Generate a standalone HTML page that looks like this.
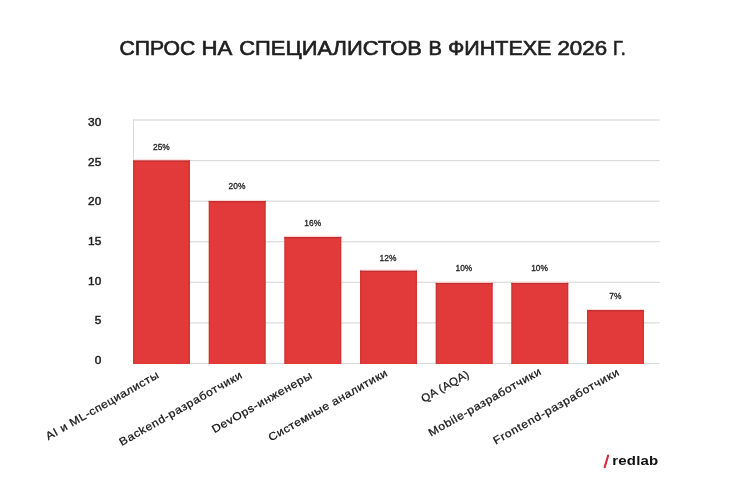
<!DOCTYPE html>
<html><head><meta charset="utf-8">
<style>
html,body{margin:0;padding:0;background:#fff;}
body{width:750px;height:500px;overflow:hidden;position:relative;font-family:"Liberation Sans",sans-serif;}
svg{position:absolute;left:0;top:0;will-change:transform;}
</style></head>
<body>
<svg width="750" height="500" viewBox="0 0 750 500" font-family="Liberation Sans, sans-serif">
  <rect x="0" y="0" width="750" height="500" fill="#fff"/>
  <!-- title -->
  <g font-size="20.3" fill="#1f1f1f" stroke="#1f1f1f" stroke-width="0.65">
    <text transform="translate(119.4,54.5) scale(1.0446,1)">СПРОС</text>
    <text transform="translate(201.5,54.5) scale(1.0936,1)">НА</text>
    <text transform="translate(239.25,54.5) scale(1.0803,1)">СПЕЦИАЛИСТОВ</text>
    <text transform="translate(428.45,54.5) scale(0.9958,1)">В</text>
    <text transform="translate(448.0,54.5) scale(1.0592,1)">ФИНТЕХЕ</text>
    <text transform="translate(557.4,54.5) scale(1.1011,1)">2026</text>
    <text transform="translate(613.05,54.5) scale(0.8935,1)">Г.</text>
  </g>
  <!-- gridlines -->
  <g fill="#dadada">
    <rect x="133" y="119.40" width="526.6" height="1.2"/>
    <rect x="133" y="159.98" width="526.6" height="1.2"/>
    <rect x="133" y="200.56" width="526.6" height="1.2"/>
    <rect x="133" y="241.13" width="526.6" height="1.2"/>
    <rect x="133" y="281.71" width="526.6" height="1.2"/>
    <rect x="133" y="322.29" width="526.6" height="1.2"/>
    <rect x="133" y="362.87" width="526.6" height="1.2"/>
    <rect x="133" y="119.4" width="1" height="244.6"/>
  </g>
  <!-- y labels -->
  <g font-size="10.6" fill="#1f1f1f" stroke="#1f1f1f" stroke-width="0.45" text-anchor="end">
    <text transform="translate(101.3,125.8) scale(1.12,1)">30</text>
    <text transform="translate(101.3,165.8) scale(1.12,1)">25</text>
    <text transform="translate(101.3,205.4) scale(1.12,1)">20</text>
    <text transform="translate(101.3,244.8) scale(1.12,1)">15</text>
    <text transform="translate(101.3,284.8) scale(1.12,1)">10</text>
    <text transform="translate(101.3,324.3) scale(1.12,1)">5</text>
    <text transform="translate(101.3,364.0) scale(1.12,1)">0</text>
  </g>
  <!-- bars -->
  <g fill="#e23a3a">
    <rect x="133.07" y="160.3" width="56.9" height="203.70"/>
    <rect x="208.73" y="200.9" width="56.9" height="163.10"/>
    <rect x="284.39" y="236.8" width="56.9" height="127.20"/>
    <rect x="360.05" y="270.5" width="56.9" height="93.50"/>
    <rect x="435.71" y="282.7" width="56.9" height="81.30"/>
    <rect x="511.37" y="282.7" width="56.9" height="81.30"/>
    <rect x="587.03" y="310.0" width="56.9" height="54.00"/>
  </g>
  <g>
    <rect x="133.07" y="159.30" width="56.9" height="1" fill="#ffd6d4"/>
    <rect x="133.27" y="160.30" width="1" height="203.70" fill="#cc3334"/>
    <rect x="188.77" y="160.30" width="1" height="203.70" fill="#cc3334"/>
    <rect x="133.07" y="160.60" width="56.9" height="1.2" fill="#bf3132"/>
    <rect x="208.73" y="199.90" width="56.9" height="1" fill="#ffd6d4"/>
    <rect x="208.93" y="200.90" width="1" height="163.10" fill="#cc3334"/>
    <rect x="264.43" y="200.90" width="1" height="163.10" fill="#cc3334"/>
    <rect x="208.73" y="201.20" width="56.9" height="1.2" fill="#bf3132"/>
    <rect x="284.39" y="235.80" width="56.9" height="1" fill="#ffd6d4"/>
    <rect x="284.59" y="236.80" width="1" height="127.20" fill="#cc3334"/>
    <rect x="340.09" y="236.80" width="1" height="127.20" fill="#cc3334"/>
    <rect x="284.39" y="237.10" width="56.9" height="1.2" fill="#bf3132"/>
    <rect x="360.05" y="269.50" width="56.9" height="1" fill="#ffd6d4"/>
    <rect x="360.25" y="270.50" width="1" height="93.50" fill="#cc3334"/>
    <rect x="415.75" y="270.50" width="1" height="93.50" fill="#cc3334"/>
    <rect x="360.05" y="270.80" width="56.9" height="1.2" fill="#bf3132"/>
    <rect x="435.71" y="281.70" width="56.9" height="1" fill="#ffd6d4"/>
    <rect x="435.91" y="282.70" width="1" height="81.30" fill="#cc3334"/>
    <rect x="491.41" y="282.70" width="1" height="81.30" fill="#cc3334"/>
    <rect x="435.71" y="283.00" width="56.9" height="1.2" fill="#bf3132"/>
    <rect x="511.37" y="281.70" width="56.9" height="1" fill="#ffd6d4"/>
    <rect x="511.57" y="282.70" width="1" height="81.30" fill="#cc3334"/>
    <rect x="567.07" y="282.70" width="1" height="81.30" fill="#cc3334"/>
    <rect x="511.37" y="283.00" width="56.9" height="1.2" fill="#bf3132"/>
    <rect x="587.03" y="309.00" width="56.9" height="1" fill="#ffd6d4"/>
    <rect x="587.23" y="310.00" width="1" height="54.00" fill="#cc3334"/>
    <rect x="642.73" y="310.00" width="1" height="54.00" fill="#cc3334"/>
    <rect x="587.03" y="310.30" width="56.9" height="1.2" fill="#bf3132"/>
  </g>
  <!-- value labels -->
  <g font-size="8.4" fill="#1f1f1f" stroke="#1f1f1f" stroke-width="0.3" text-anchor="middle">
    <text x="161.4" y="149.8">25%</text>
    <text x="237.0" y="188.6">20%</text>
    <text x="312.7" y="225.8">16%</text>
    <text x="388.0" y="260.8">12%</text>
    <text x="463.9" y="270.8">10%</text>
    <text x="539.6" y="270.8">10%</text>
    <text x="615.3" y="299.0">7%</text>
  </g>
  <!-- x labels -->
  <g font-size="11" fill="#151515" stroke="#151515" stroke-width="0.25" text-anchor="middle">
    <text transform="translate(103.90,408.75) rotate(-29.5) scale(1.1,1)" textLength="116.1" lengthAdjust="spacing">AI и ML-специалисты</text>
    <text transform="translate(182.40,411.75) rotate(-29.5) scale(1.1,1)" textLength="126.5" lengthAdjust="spacing">Backend-разработчики</text>
    <text transform="translate(263.60,405.50) rotate(-29.5) scale(1.1,1)" textLength="102.7" lengthAdjust="spacing">DevOps-инженеры</text>
    <text transform="translate(329.55,408.40) rotate(-29.5) scale(1.1,1)" textLength="122.2" lengthAdjust="spacing">Системные аналитики</text>
    <text transform="translate(446.75,389.60) rotate(-29.5) scale(1.05,1)" textLength="50.5" lengthAdjust="spacing">QA (AQA)</text>
    <text transform="translate(486.40,405.30) rotate(-29.5) scale(1.1,1)" textLength="115.7" lengthAdjust="spacing">Mobile-разработчики</text>
    <text transform="translate(557.75,409.70) rotate(-29.5) scale(1.1,1)" textLength="129.7" lengthAdjust="spacing">Frontend-разработчики</text>
  </g>
  <!-- logo -->
  <line x1="608.1" y1="455.6" x2="604.7" y2="467.2" stroke="#d72a3c" stroke-width="2.1" stroke-linecap="round"/>
  <text transform="translate(612.3,465) scale(1.2,1)" textLength="38.3" lengthAdjust="spacing" font-size="12.5" font-weight="bold" fill="#111">redlab</text>
</svg>
</body></html>
